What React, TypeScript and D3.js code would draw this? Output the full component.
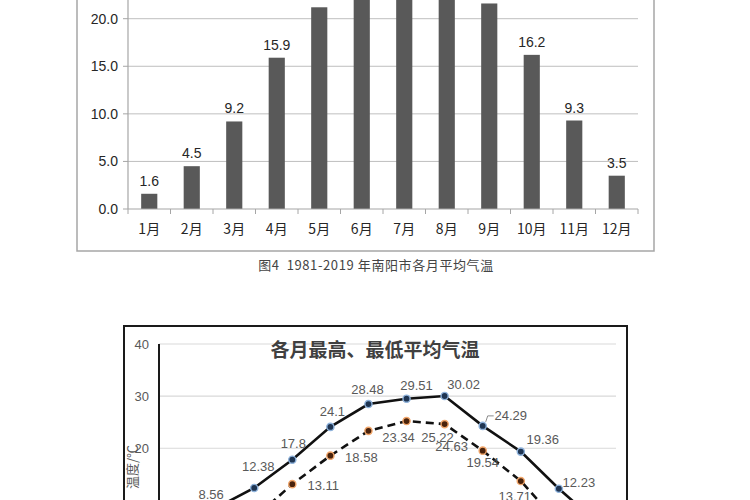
import React, { useRef, useEffect } from 'react';
import * as d3 from 'd3';

// Top chart: monthly mean temperature
const months = ['1月', '2月', '3月', '4月', '5月', '6月', '7月', '8月', '9月', '10月', '11月', '12月'];
const meanTemp = [1.6, 4.5, 9.2, 15.9, 21.2, 25.5, 27.4, 26.5, 21.6, 16.2, 9.3, 3.5];
const barTicks = [0, 5, 10, 15, 20, 25];

// Bottom chart: monthly max / min mean temperature
const highTemp = [6.3, 8.56, 12.38, 17.8, 24.1, 28.48, 29.51, 30.02, 24.29, 19.36, 12.23, 5.8];
const lowTemp = [0.3, 2.6, 6.6, 13.11, 18.58, 23.34, 25.22, 24.63, 19.54, 13.71, 5.6, 0.9];
const lineTicks = [20, 30, 40];

// label offsets (dx, dy from point to text baseline)
const highOffsets: [number, number][] = [
  [-5, -9], [-5, -9], [4, -17], [1, -12], [2, -11], [-1, -10],
  [10, -9], [19, -7], [28, -6], [22, -8], [20, -2], [20, -2],
];
const lowOffsets: [number, number][] = [
  [0, 16], [0, 16], [0, 16], [31, 6], [31, 6], [30, 11],
  [31, 21], [7, 27], [0, 16], [-6, 20], [0, 16], [0, 16],
];

const W = 750;
const H = 500;
const latin = '"Liberation Sans", Arial, sans-serif';
const cjk = '"Noto Sans CJK SC", "Liberation Sans", sans-serif';

const App: React.FC = () => {
  const svgRef = useRef<SVGSVGElement>(null);

  useEffect(() => {
    if (!svgRef.current) return;
    const svg = d3.select(svgRef.current);
    svg.selectAll('*').remove();

    svg.append('rect').attr('width', W).attr('height', H).attr('fill', '#fff');

    // ---------- Top bar chart ----------
    const top = svg.append('g');

    top.append('rect')
      .attr('x', 77).attr('y', -60)
      .attr('width', 577).attr('height', 311)
      .attr('fill', 'none')
      .attr('stroke', '#a6a6a6')
      .attr('stroke-width', 1.5);

    const xBar = d3.scaleBand<string>()
      .domain(months)
      .range([128, 638])
      .paddingInner(0.62)
      .paddingOuter(0.31);
    const xStep = d3.scaleBand<string>().domain(months).range([128, 638]);

    const yBar = d3.scaleLinear().domain([0, 20]).range([209, 18.7]);

    // grid lines
    barTicks.filter(v => v > 0).forEach(v => {
      top.append('line')
        .attr('x1', 128).attr('x2', 638)
        .attr('y1', yBar(v)).attr('y2', yBar(v))
        .attr('stroke', '#bfbfbf').attr('stroke-width', 1);
    });

    // bars
    months.forEach((m, i) => {
      const v = meanTemp[i];
      top.append('rect')
        .attr('x', xBar(m)!)
        .attr('y', yBar(v))
        .attr('width', xBar.bandwidth())
        .attr('height', yBar(0) - yBar(v))
        .attr('fill', '#595959');
      top.append('text')
        .attr('x', xBar(m)! + xBar.bandwidth() / 2)
        .attr('y', yBar(v) - 8)
        .attr('text-anchor', 'middle')
        .attr('font-family', latin)
        .attr('font-size', 14)
        .attr('fill', '#262626')
        .text(v.toFixed(1));
    });

    // y axis
    top.append('line')
      .attr('x1', 128).attr('x2', 128)
      .attr('y1', -60).attr('y2', yBar(0))
      .attr('stroke', '#a6a6a6').attr('stroke-width', 1.2);
    barTicks.forEach(v => {
      top.append('line')
        .attr('x1', 123).attr('x2', 128)
        .attr('y1', yBar(v)).attr('y2', yBar(v))
        .attr('stroke', '#a6a6a6');
      top.append('text')
        .attr('x', 118)
        .attr('y', yBar(v) + 5)
        .attr('text-anchor', 'end')
        .attr('font-family', latin)
        .attr('font-size', 14)
        .attr('fill', '#262626')
        .text(v.toFixed(1));
    });

    // x axis
    top.append('line')
      .attr('x1', 128).attr('x2', 638)
      .attr('y1', yBar(0)).attr('y2', yBar(0))
      .attr('stroke', '#a6a6a6').attr('stroke-width', 1.2);
    [...months.map(m => xStep(m)!), 638].forEach(x => {
      top.append('line')
        .attr('x1', x).attr('x2', x)
        .attr('y1', yBar(0)).attr('y2', yBar(0) + 5)
        .attr('stroke', '#a6a6a6');
    });
    months.forEach(m => {
      top.append('text')
        .attr('x', xStep(m)! + xStep.bandwidth() / 2)
        .attr('y', 234)
        .attr('text-anchor', 'middle')
        .attr('font-family', cjk)
        .attr('font-size', 14)
        .attr('fill', '#262626')
        .text(m);
    });

    // caption
    svg.append('text')
      .attr('x', 376)
      .attr('y', 270)
      .attr('text-anchor', 'middle')
      .attr('font-family', cjk)
      .attr('font-size', 13)
      .attr('letter-spacing', 0.6)
      .attr('fill', '#444')
      .style('white-space', 'pre')
      .text('图4  1981-2019 年南阳市各月平均气温');

    // ---------- Bottom line chart ----------
    const bot = svg.append('g');

    bot.append('rect')
      .attr('x', 124).attr('y', 326)
      .attr('width', 503).attr('height', 300)
      .attr('fill', 'none')
      .attr('stroke', '#1a1a1a')
      .attr('stroke-width', 2);

    const xLine = d3.scalePoint<string>()
      .domain(months)
      .range([159, 616])
      .padding(0.5);
    const yLine = d3.scaleLinear().domain([0, 40]).range([552.5, 344]);

    lineTicks.forEach(v => {
      bot.append('line')
        .attr('x1', 159).attr('x2', 616)
        .attr('y1', yLine(v)).attr('y2', yLine(v))
        .attr('stroke', '#d9d9d9').attr('stroke-width', 1.2);
      bot.append('text')
        .attr('x', 149)
        .attr('y', yLine(v) + 4.5)
        .attr('text-anchor', 'end')
        .attr('font-family', latin)
        .attr('font-size', 13)
        .attr('fill', '#595959')
        .text(String(v));
    });

    bot.append('line')
      .attr('x1', 159).attr('x2', 159)
      .attr('y1', yLine(40)).attr('y2', 560)
      .attr('stroke', '#1a1a1a').attr('stroke-width', 2);

    bot.append('text')
      .attr('transform', 'translate(137,445) rotate(-90)')
      .attr('text-anchor', 'end')
      .attr('font-family', cjk)
      .attr('font-size', 13)
      .attr('fill', '#595959')
      .text('温度/℃');

    bot.append('text')
      .attr('x', 375)
      .attr('y', 357)
      .attr('text-anchor', 'middle')
      .attr('font-family', cjk)
      .attr('font-size', 19)
      .attr('font-weight', 700)
      .attr('fill', '#404040')
      .text('各月最高、最低平均气温');

    const line = d3.line<number>()
      .x((_, i) => xLine(months[i])!)
      .y(d => yLine(d));

    bot.append('path')
      .datum(lowTemp)
      .attr('d', line)
      .attr('fill', 'none')
      .attr('stroke', '#111')
      .attr('stroke-width', 2.6)
      .attr('stroke-dasharray', '8,5');

    bot.append('path')
      .datum(highTemp)
      .attr('d', line)
      .attr('fill', 'none')
      .attr('stroke', '#111')
      .attr('stroke-width', 2.6);

    const series = [
      { data: highTemp, offsets: highOffsets, fill: '#1f3552', stroke: '#8fb3dc' },
      { data: lowTemp, offsets: lowOffsets, fill: '#4a230c', stroke: '#f2a66a' },
    ];

    series.forEach(s => {
      s.data.forEach((v, i) => {
        const px = xLine(months[i])!;
        const py = yLine(v);
        bot.append('circle')
          .attr('cx', px).attr('cy', py)
          .attr('r', 3.6)
          .attr('fill', s.fill)
          .attr('stroke', s.stroke)
          .attr('stroke-width', 1.4);
        bot.append('text')
          .attr('x', px + s.offsets[i][0])
          .attr('y', py + s.offsets[i][1])
          .attr('text-anchor', 'middle')
          .attr('font-family', latin)
          .attr('font-size', 13)
          .attr('fill', '#595959')
          .text(String(v));
      });
    });

    // leader line for 24.29 (September high)
    const sx = xLine(months[8])!;
    const sy = yLine(highTemp[8]);
    bot.append('polyline')
      .attr('points', `${sx + 3},${sy - 4} ${sx + 5},${sy - 10} ${sx + 11},${sy - 10}`)
      .attr('fill', 'none')
      .attr('stroke', '#8c8c8c')
      .attr('stroke-width', 1);
  }, []);

  return (
    <svg
      ref={svgRef}
      width={W}
      height={H}
      style={{ position: 'absolute', left: 0, top: 0, display: 'block' }}
    />
  );
};

export default App;
